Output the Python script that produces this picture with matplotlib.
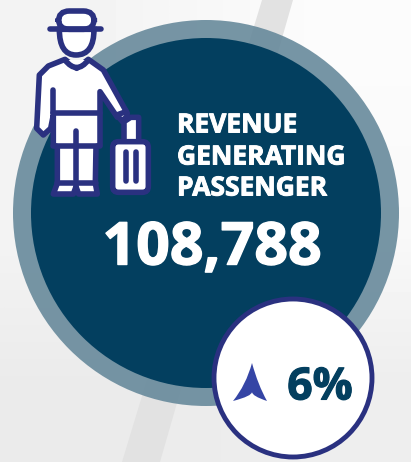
import numpy as np
import matplotlib
matplotlib.use('Agg')
import matplotlib.pyplot as plt
import matplotlib.patheffects as pe
from matplotlib.patches import Circle, Polygon, FancyBboxPatch, PathPatch
from matplotlib.path import Path

title_lines = ['REVENUE', 'GENERATING', 'PASSENGER']
value_label = '108,788'
change_label = '6%'

navy = '#2a3180'
dark = '#033f5f'

plt.rcParams['font.family'] = ['Open Sans', 'DejaVu Sans']

fig = plt.figure(figsize=(4.11, 4.62), dpi=100)
ax = fig.add_axes([0, 0, 1, 1])
ax.set_xlim(0, 411)
ax.set_ylim(462, 0)
ax.axis('off')

# background, light grey getting darker towards the bottom
bg = np.array([[0.955, 0.985], [0.955, 0.975], [0.92, 0.93]])
ax.imshow(bg, cmap='gray', vmin=0, vmax=1, extent=(0, 411, 462, 0),
          aspect='auto', interpolation='bilinear', zorder=0)

# diagonal stripe behind the circles
ax.add_patch(Polygon([(262, 0), (293, 0), (160, 462), (122, 462)],
                     fc='#e2e2e2', ec='none', zorder=1))

# big circle
ax.add_patch(Circle((206, 213), 193, fc='#648799', ec='none', alpha=0.88, zorder=2))
ax.add_patch(Circle((206, 213), 175, fc=dark, ec='none', zorder=3))


def z(points):
    return [(20 + x / 3, y / 3) for x, y in points]


lw = 4.0
# head and hat
head = Path(z([(118, 88), (118, 165), (168, 165), (222, 165), (222, 88), (118, 88)]),
            [Path.MOVETO, Path.CURVE3, Path.CURVE3, Path.CURVE3, Path.CURVE3, Path.CLOSEPOLY])
ax.add_patch(PathPatch(head, fc='white', ec=navy, lw=lw, zorder=5))
crown = FancyBboxPatch((20 + 115 / 3, 33 / 3), 108 / 3, 55 / 3, boxstyle='round,pad=0,rounding_size=11',
                       fc='white', ec=navy, lw=lw, zorder=5)
ax.add_patch(crown)
ax.plot(*zip(*z([(90, 88), (243, 88)])), color=navy, lw=lw, solid_capstyle='round', zorder=6)

# body
body = [(135, 178), (85, 198), (58, 225), (50, 385), (70, 405), (92, 385), (100, 345),
        (100, 435), (112, 440), (112, 550), (100, 582), (160, 582), (168, 560), (176, 582),
        (232, 582), (226, 550), (228, 440), (240, 435), (240, 275), (292, 352), (322, 340),
        (250, 210), (205, 178), (170, 205)]
ax.add_patch(Polygon(z(body), fc='white', ec=navy, lw=lw, joinstyle='round', zorder=4))
for seg in [[(100, 270), (100, 340)], [(100, 340), (240, 340)], [(168, 392), (168, 560)],
            [(100, 437), (240, 437)], [(112, 550), (160, 550)], [(178, 550), (228, 550)]]:
    ax.plot(*zip(*z(seg)), color=navy, lw=lw, solid_capstyle='round', zorder=6)
collar = Path(z([(135, 180), (170, 225), (205, 180)]), [Path.MOVETO, Path.CURVE3, Path.CURVE3])
ax.add_patch(PathPatch(collar, fc='white', ec=navy, lw=lw, zorder=6))
ax.add_patch(Polygon(z([(290, 345), (318, 335), (322, 350), (305, 362)]), fc='white', ec=navy, lw=lw, zorder=6))

# suitcase
ax.add_patch(Polygon(z([(312, 430), (312, 365), (332, 352), (356, 352), (356, 430)]),
                     fc='white', ec=navy, lw=lw, joinstyle='round', zorder=5))
ax.add_patch(FancyBboxPatch((20 + 278 / 3, 425 / 3), 107 / 3, 152 / 3, boxstyle='round,pad=0,rounding_size=6',
                            fc='white', ec=navy, lw=lw, zorder=6))
for xs in [317, 348]:
    ax.plot(*zip(*z([(xs, 455), (xs, 542)])), color=navy, lw=lw, solid_capstyle='round', zorder=7)

# title and value, the stroke makes them as heavy as in the original
for text, y in zip(title_lines, [125, 157, 188]):
    t = ax.text(177, y, text, color='white', fontsize=19, fontweight='bold', va='center', ha='left', zorder=7)
    t.set_path_effects([pe.withStroke(linewidth=0.7, foreground='white')])
t = ax.text(212, 249, value_label, color='white', fontsize=42.5, fontweight='bold', va='center', ha='center', zorder=7)
t.set_path_effects([pe.withStroke(linewidth=1.0, foreground='white')])

# small circle with change
ax.add_patch(Circle((293, 378), 79, fc='white', ec=navy, lw=3.5, zorder=8))
arrow = Path([(252, 363), (258, 385), (267, 401), (252, 396), (252, 392), (252, 396), (233, 401), (246, 385), (252, 363)],
             [Path.MOVETO, Path.CURVE3, Path.CURVE3, Path.CURVE3, Path.CURVE3, Path.CURVE3, Path.CURVE3, Path.CURVE3, Path.CURVE3])
ax.add_patch(PathPatch(arrow, fc='#3545a5', ec='none', zorder=9))
t = ax.text(320, 388, change_label, color=dark, fontsize=32, fontweight='bold', va='center', ha='center', zorder=9)
t.set_path_effects([pe.withStroke(linewidth=0.8, foreground=dark)])

fig.savefig('out.png', dpi=100)
